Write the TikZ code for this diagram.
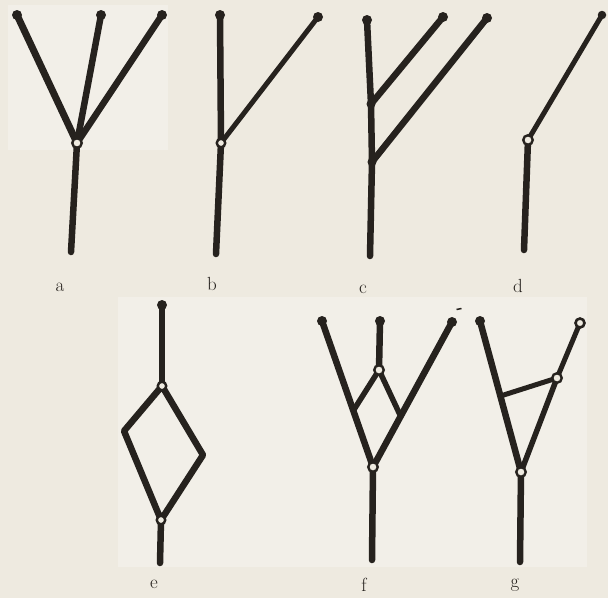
\documentclass[tikz,border=0pt]{standalone}
\usetikzlibrary{calc}
\begin{document}
\begin{tikzpicture}[x=1pt,y=-1pt,
  bar/.style={draw=ink,line width=6.5pt,line cap=round,line join=round},
  thinbar/.style={draw=ink,line width=5pt,line cap=round,line join=round},
  knob/.style={circle,fill=ink,inner sep=0pt,minimum size=10pt},
  joint/.style={circle,draw=ink,fill=paper,line width=2.4pt,inner sep=0pt,minimum size=9.5pt},
  darkjoint/.style={circle,fill=ink,inner sep=0pt,minimum size=9pt},
  lbl/.style={font=\fontsize{19}{20}\selectfont,text=ink}]
\definecolor{paper}{RGB}{238,234,224}
\definecolor{paperlight}{RGB}{242,239,232}
\definecolor{ink}{RGB}{38,34,30}
\fill[paper] (0,0) rectangle (608,598);
\useasboundingbox (0,0) rectangle (608,598);
\fill[paperlight] (8,5) rectangle (168,150);
\fill[paperlight] (118,297) rectangle (587,567);

% ---------- a ----------
\coordinate (a1) at (17,15);
\coordinate (a2) at (101,15);
\coordinate (a3) at (162,15);
\coordinate (aj) at (77,143);
\coordinate (ab) at (71,252);
\draw[bar,line width=7pt] (a1) -- (aj);
\draw[bar] (a2) -- (aj);
\draw[bar] (a3) -- (aj);
\draw[bar] (aj) -- (ab);
\node[knob] at (a1) {};
\node[knob] at (a2) {};
\node[knob] at (a3) {};
\node[joint] at (aj) {};
\node[lbl] (la) at (60,287) {a};

% ---------- b ----------
\coordinate (b1) at (220,15);
\coordinate (b2) at (318,17);
\coordinate (bj) at (221,143);
\coordinate (bb) at (216,254);
\draw[bar] (b1) -- (bj) -- (bb);
\draw[thinbar] (b2) -- (bj);
\node[knob] at (b1) {};
\node[knob] at (b2) {};
\node[joint,minimum size=8.5pt] at (bj) {};
\node[lbl] (lb) at (212,284) {b};

% ---------- c ----------
\coordinate (c1) at (367,20);
\coordinate (c2) at (443,17);
\coordinate (c3) at (487,18);
\coordinate (cj1) at (371,104);
\coordinate (cj2) at (372,162);
\coordinate (cb) at (370,256);
\draw[bar] (c1) -- (cj1) -- (cj2) -- (cb);
\draw[bar] (c2) -- (cj1);
\draw[bar] (c3) -- (cj2);
\node[knob] at (c1) {};
\node[knob] at (c2) {};
\node[knob] at (c3) {};
\node[darkjoint] at (cj1) {};
\node[darkjoint] at (cj2) {};
\node[lbl] (lc) at (363,289) {c};

% ---------- d ----------
\coordinate (d1) at (602,15);
\coordinate (dj) at (528,140);
\coordinate (db) at (524,250);
\draw[thinbar] (d1) -- (dj);
\draw[bar] (dj) -- (db);
\node[knob,minimum size=8.5pt] at (d1) {};
\node[joint] at (dj) {};
\node[lbl] (ld) at (518,286) {d};

% ---------- e ----------
\coordinate (e1) at (162,305);
\coordinate (ej1) at (162,386);
\coordinate (eL) at (124,431);
\coordinate (eR) at (203,455);
\coordinate (ej2) at (161,520);
\coordinate (eb) at (160,563);
\draw[bar] (e1) -- (ej1);
\draw[bar] (ej1) -- (eL) -- (ej2) -- (eR) -- cycle;
\draw[bar] (ej2) -- (eb);
\node[knob] at (e1) {};
\node[joint,minimum size=8.5pt] at (ej1) {};
\node[joint,minimum size=8.5pt] at (ej2) {};
\node[lbl] (le) at (154,584) {e};

% ---------- f ----------
\coordinate (f1) at (322,321);
\coordinate (f2) at (380,321);
\coordinate (f3) at (452,322);
\coordinate (fj1) at (379,370);
\coordinate (fj2) at (373,467);
\coordinate (fL) at ($(f1)!0.614!(fj2)$);
\coordinate (fR) at ($(f3)!0.65!(fj2)$);
\coordinate (fb) at (372,560);
\draw[bar] (f1) -- (fj2);
\draw[bar] (f3) -- (fj2);
\draw[bar] (f2) -- (fj1);
\draw[bar,line width=5.5pt] (fL) -- (fj1) -- (fR);
\draw[bar] (fj2) -- (fb);
\node[knob] at (f1) {};
\node[knob] at (f2) {};
\node[knob] at (f3) {};
\node[joint] at (fj1) {};
\node[joint] at (fj2) {};
\node[lbl] (lf) at (364,585) {f};
\draw[draw=ink,line width=1.5pt] (456.5,309.5) -- (461.5,308.5);

% ---------- g ----------
\coordinate (g1) at (480,321);
\coordinate (g2) at (580,323);
\coordinate (gj1) at (557,378);
\coordinate (gj2) at (521,472);
\coordinate (gL) at ($(g1)!0.497!(gj2)$);
\coordinate (gb) at (520,562);
\draw[bar] (g1) -- (gj2);
\draw[thinbar] (g2) -- (gj1);
\draw[bar,line width=5.5pt] (gj1) -- (gj2);
\draw[thinbar] (gL) -- (gj1);
\draw[bar] (gj2) -- (gb);
\node[knob] at (g1) {};
\node[joint,minimum size=9pt,line width=2.6pt] at (g2) {};
\node[joint] at (gj1) {};
\node[joint] at (gj2) {};
\node[lbl] (lg) at (515,585) {g};
\end{tikzpicture}
\end{document}
